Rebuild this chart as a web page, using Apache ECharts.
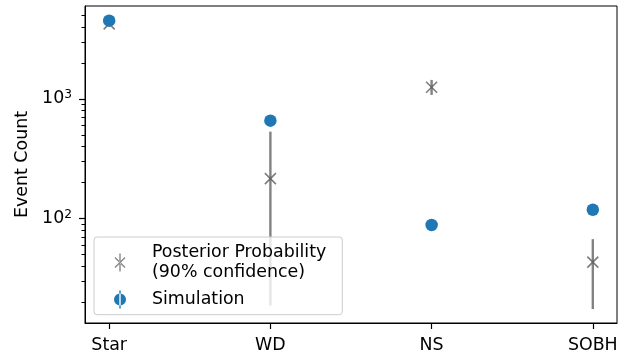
<!DOCTYPE html>
<html>
<head>
<meta charset="utf-8">
<script src="https://cdn.jsdelivr.net/npm/echarts@6/dist/echarts.min.js"></script>
<style>
  html, body { margin: 0; padding: 0; background: #fff; }
  #chart { width: 634px; height: 354px; }
</style>
</head>
<body>
<div id="chart"></div>
<script>
// Event counts per remnant type
const categories = ['Star', 'WD', 'NS', 'SOBH'];
const simulation = [4520, 658, 88, 118];
const posterior = [4250, 215, 1253, 43];
const posteriorLow = [4050, 18.6, 1080, 17.4];
const posteriorHigh = [4450, 532, 1443, 67];

const majorTicks = [100, 1000];
const minorTicks = [20, 30, 40, 50, 60, 70, 80, 90, 200, 300, 400, 500, 600, 700, 800, 900, 2000, 3000, 4000, 5000];

const FONT = 'DejaVu Sans';
const FS = 17.4;
const SERIES_POST = 'Posterior Probability\n(90% confidence)';
const SERIES_SIM = 'Simulation';

const chart = echarts.init(document.getElementById('chart'), null, { renderer: 'canvas' });

const xIdx = categories.map((_, i) => i);
const yMin = 13.3, yMax = 6000;

const option = {
  animation: false,
  backgroundColor: '#ffffff',
  grid: {
    left: 85, right: 17, top: 6, bottom: 31,
    show: true, borderColor: '#000', borderWidth: 1, backgroundColor: 'transparent'
  },
  legend: {
    orient: 'vertical',
    left: 94, top: 237,
    padding: [5, 16, 5, 20],
    itemGap: 6.5,
    itemWidth: 12, itemHeight: 18,
    selectedMode: false,
    backgroundColor: 'rgba(255,255,255,0.8)',
    borderColor: '#cccccc', borderWidth: 1, borderRadius: 3,
    textStyle: { fontFamily: FONT, fontSize: FS, lineHeight: 20.4, color: '#000', padding: [0, 0, 0, 21] },
    data: [
      {
        name: SERIES_POST,
        icon: 'path://M5.3,0H6.7V18H5.3Z M0.5,4.5L10.5,14.5L11.5,13.5L1.5,3.5Z M11.5,4.5L1.5,14.5L0.5,13.5L10.5,3.5Z',
        itemStyle: { color: '#6a6a6a', borderWidth: 0 }
      },
      {
        name: SERIES_SIM,
        icon: 'path://M5.3,0H6.7V18H5.3Z M0,9A6,6 0 1 0 12,9A6,6 0 1 0 0,9Z',
        itemStyle: { color: '#1f77b4', borderWidth: 0 }
      }
    ]
  },
  xAxis: {
    type: 'value',
    min: -0.15, max: 3.15,
    splitLine: { show: false },
    axisLine: { show: true, onZero: false, lineStyle: { color: '#000', width: 1 } },
    axisTick: { show: true, length: 6, customValues: xIdx, lineStyle: { color: '#000', width: 1.2 } },
    axisLabel: {
      customValues: xIdx,
      margin: 13.5,
      fontFamily: FONT, fontSize: FS, color: '#000',
      formatter: v => categories[Math.round(v)] || ''
    }
  },
  yAxis: [
    {
      type: 'log',
      logBase: 10,
      min: yMin, max: yMax,
      name: 'Event Count',
      nameLocation: 'middle',
      nameRotate: 90,
      nameGap: 51,
      nameTextStyle: { fontFamily: FONT, fontSize: FS, color: '#000' },
      splitLine: { show: false },
      axisLine: { show: true, onZero: false, lineStyle: { color: '#000', width: 1 } },
      axisTick: { show: true, length: 6, customValues: majorTicks, lineStyle: { color: '#000', width: 1.2 } },
      axisLabel: {
        customValues: majorTicks,
        margin: 13,
        fontFamily: FONT, fontSize: FS, color: '#000', lineHeight: 20,
        formatter: v => '10{sup|' + Math.round(Math.log10(v)) + '}',
        rich: {
          sup: { fontFamily: FONT, fontSize: 12.2, color: '#000', verticalAlign: 'top', lineHeight: 10 }
        }
      }
    },
    {
      // minor ticks on the same log scale
      type: 'log',
      logBase: 10,
      min: yMin, max: yMax,
      position: 'left',
      splitLine: { show: false },
      axisLine: { show: false, onZero: false },
      axisTick: { show: true, length: 3.5, customValues: minorTicks, lineStyle: { color: '#000', width: 1 } },
      axisLabel: { show: false }
    }
  ],
  series: [
    {
      name: 'posteriorRange',
      type: 'custom',
      yAxisIndex: 0,
      data: xIdx.map(i => [i, posteriorLow[i], posteriorHigh[i]]),
      encode: { x: 0, y: [1, 2] },
      renderItem: (params, api) => {
        const p0 = api.coord([api.value(0), api.value(1)]);
        const p1 = api.coord([api.value(0), api.value(2)]);
        return {
          type: 'line',
          shape: { x1: p0[0], y1: p0[1], x2: p1[0], y2: p1[1] },
          style: { stroke: '#828282', lineWidth: 2.4 }
        };
      },
      silent: true
    },
    {
      name: SERIES_POST,
      type: 'scatter',
      yAxisIndex: 0,
      symbol: 'path://M0,0L10,10M10,0L0,10',
      symbolSize: 11,
      itemStyle: { color: 'none', borderColor: '#5c5c5c', borderWidth: 1.6 },
      data: xIdx.map(i => [i, posterior[i]])
    },
    {
      name: SERIES_SIM,
      type: 'scatter',
      yAxisIndex: 0,
      symbol: 'circle',
      symbolSize: 12.5,
      itemStyle: { color: '#1f77b4', opacity: 1 },
      data: xIdx.map(i => [i, simulation[i]])
    }
  ]
};

chart.setOption(option);
</script>
</body>
</html>
